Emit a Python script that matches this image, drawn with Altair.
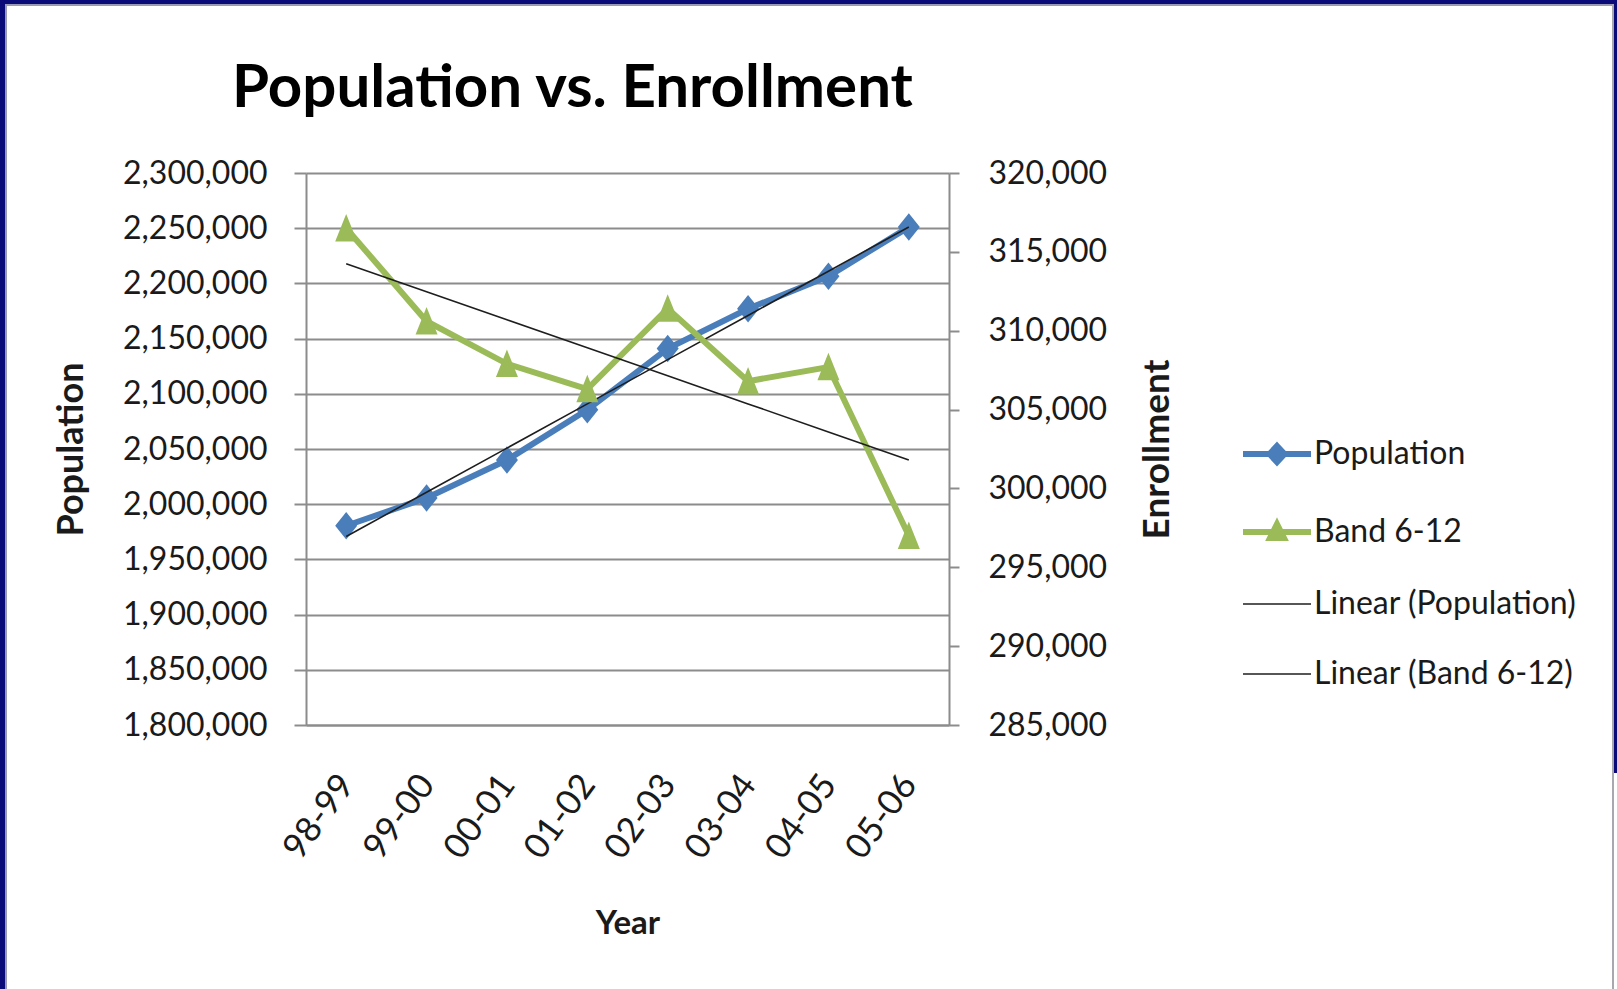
import altair as alt
import numpy as np
import pandas as pd

# ---- data -------------------------------------------------------------
years = ["98-99", "99-00", "00-01", "01-02", "02-03", "03-04", "04-05", "05-06"]
population = [1980500, 2005700, 2040000, 2085500, 2141000, 2177000, 2206500, 2251000]
band_6_12 = [316500, 310600, 307900, 306300, 311400, 306800, 307700, 297000]

pop_ticks = list(range(1800000, 2300001, 50000))
enr_ticks = list(range(285000, 320001, 5000))

series_names = ["Population", "Band 6-12", "Linear (Population)", "Linear (Band 6-12)"]
series_colors = ["#4a7ebb", "#9bbb59", "#1e1e1e", "#1e1e1e"]

# least-squares trend lines over the year index
idx = np.arange(len(years))
pop_trend = np.polyval(np.polyfit(idx, population, 1), idx)
band_trend = np.polyval(np.polyfit(idx, band_6_12, 1), idx)

pop_df = pd.DataFrame({"Year": years, "value": population, "series": series_names[0]})
band_df = pd.DataFrame({"Year": years, "value": band_6_12, "series": series_names[1]})
pop_trend_df = pd.DataFrame({"Year": years, "value": pop_trend, "series": series_names[2]})
band_trend_df = pd.DataFrame({"Year": years, "value": band_trend, "series": series_names[3]})

# ---- styling ----------------------------------------------------------
FONT = "Lato"
TITLE_FONT = "Lato"
TEXT = "#1a1a1a"
GRID = "#8c8c8c"

DIAMOND = "M0,-1.25L1,0L0,1.25L-1,0Z"
TRIANGLE = "M0,-1.3L1,1.2L-1,1.2Z"

# legend swatches: a line with the series marker in the middle
legend_shape = (
    "datum.value === 'Population' ? 'M-3.4,0L3.4,0M0,-0.8L0.75,0L0,0.8L-0.75,0Z' : "
    "datum.value === 'Band 6-12' ? 'M-3.4,0L3.4,0M0,-0.8L0.7,0.6L-0.7,0.6Z' : 'M-3.4,0L3.4,0'"
)
legend_fill = (
    "datum.value === 'Population' ? '#4a7ebb' : "
    "datum.value === 'Band 6-12' ? '#9bbb59' : 'transparent'"
)
legend_width = "indexof(['Population', 'Band 6-12'], datum.value) >= 0 ? 6 : 1.6"

legend = alt.Legend(
    title=None,
    orient="none",
    legendX=925,
    legendY=265,
    padding=0,
    symbolSize=400,
    symbolOffset=30,
    labelOffset=21,
    rowPadding=38,
    labelFont=FONT,
    labelFontSize=32,
    labelColor=TEXT,
    labelLimit=400,
    symbolType={"expr": legend_shape},
    symbolFillColor={"expr": legend_fill},
    symbolStrokeWidth={"expr": legend_width},
    symbolOpacity=1,
)

color = alt.Color(
    "series:N",
    scale=alt.Scale(domain=series_names, range=series_colors),
    legend=legend,
)

x_enc = alt.X(
    "Year:N",
    sort=years,
    scale=alt.Scale(domain=years),
    axis=alt.Axis(
        title="Year",
        labelAngle=306,
        labelAlign="right",
        labelBaseline="middle",
        labelPadding=53,
        labelFont=FONT,
        labelFontSize=35,
        labelColor=TEXT,
        ticks=False,
        domainColor=GRID,
        domainWidth=2,
        titleFont=FONT,
        titleFontSize=33,
        titleFontWeight="bold",
        titleColor=TEXT,
        titleBaseline="alphabetic",
        titleY=208,
    ),
)

pop_axis = alt.Axis(
    orient="left",
    values=pop_ticks,
    format=",d",
    grid=True,
    gridColor=GRID,
    gridWidth=2,
    tickSize=12,
    tickColor=GRID,
    tickWidth=2,
    domainColor=GRID,
    domainWidth=2,
    labelFont=FONT,
    labelFontSize=32,
    labelColor=TEXT,
    labelPadding=27,
    title="Population",
    titleFont=FONT,
    titleFontSize=36,
    titleFontWeight="bold",
    titleColor=TEXT,
    titleBaseline="alphabetic",
    titleX=-224,
)

enr_axis = alt.Axis(
    orient="right",
    values=enr_ticks,
    format=",d",
    grid=False,
    tickSize=10,
    tickColor=GRID,
    tickWidth=2,
    domainColor=GRID,
    domainWidth=2,
    labelFont=FONT,
    labelFontSize=32,
    labelColor=TEXT,
    labelPadding=29,
    title="Enrollment",
    titleFont=FONT,
    titleFontSize=37,
    titleFontWeight="bold",
    titleColor=TEXT,
    titleAngle=270,
    titleBaseline="alphabetic",
    titleX=219,
)

y_pop = alt.Y(
    "value:Q",
    scale=alt.Scale(domain=[1800000, 2300000], zero=False, nice=False),
    axis=pop_axis,
)
y_enr = alt.Y(
    "value:Q",
    scale=alt.Scale(domain=[285000, 320000], zero=False, nice=False),
    axis=enr_axis,
)

# ---- Population (left axis) -------------------------------------------
pop_line = alt.Chart(pop_df).mark_line(strokeWidth=6).encode(x=x_enc, y=y_pop, color=color)
pop_pts = alt.Chart(pop_df).mark_point(
    shape=DIAMOND, size=484, filled=True, opacity=1
).encode(x=x_enc, y=y_pop, color=color)
pop_fit = alt.Chart(pop_trend_df).mark_line(strokeWidth=1.6).encode(x=x_enc, y=y_pop, color=color)
pop_layer = alt.layer(pop_line, pop_pts, pop_fit)

# ---- Band 6-12 enrollment (right axis) ---------------------------------
band_line = alt.Chart(band_df).mark_line(strokeWidth=6).encode(x=x_enc, y=y_enr, color=color)
band_pts = alt.Chart(band_df).mark_point(
    shape=TRIANGLE, size=484, filled=True, opacity=1
).encode(x=x_enc, y=y_enr, color=color)
band_fit = alt.Chart(band_trend_df).mark_line(strokeWidth=1.6).encode(x=x_enc, y=y_enr, color=color)
band_layer = alt.layer(band_line, band_pts, band_fit)

# ---- slide frame around the chart ---------------------------------------
one = pd.DataFrame({"k": [0]})
frame_left = alt.Chart(one).mark_rule(color="#0a0a78", strokeWidth=5).encode(
    x=alt.value(-303.5), y=alt.value(-173), y2=alt.value(816)
)
frame_left_edge = alt.Chart(one).mark_rule(color="#9a9ab4", strokeWidth=2).encode(
    x=alt.value(-300), y=alt.value(-169), y2=alt.value(816)
)
frame_top = alt.Chart(one).mark_rule(color="#0a0a78", strokeWidth=4).encode(
    x=alt.value(-306), x2=alt.value(1311), y=alt.value(-171)
)
frame_top_edge = alt.Chart(one).mark_rule(color="#9a9ab4", strokeWidth=2).encode(
    x=alt.value(-301), x2=alt.value(1306), y=alt.value(-168)
)
frame_right = alt.Chart(one).mark_rule(color="#a8a8b0", strokeWidth=2).encode(
    x=alt.value(1307), y=alt.value(-169), y2=alt.value(816)
)
frame_right_outer = alt.Chart(one).mark_rule(color="#0a0a78", strokeWidth=3).encode(
    x=alt.value(1309.5), y=alt.value(-173), y2=alt.value(600)
)

chart = (
    alt.layer(
        pop_layer, band_layer,
        frame_left, frame_left_edge, frame_top, frame_top_edge, frame_right, frame_right_outer,
    )
    .resolve_scale(y="independent")
    .properties(
        width=643,
        height=552,
        autosize=alt.AutoSizeParams(type="none"),
        padding={"left": 306, "top": 173, "right": 668, "bottom": 264},
        background="white",
        title=alt.TitleParams(
            "Population vs. Enrollment",
            font=TITLE_FONT,
            fontSize=60,
            fontWeight="bold",
            color="#000000",
            anchor="middle",
            frame="group",
            baseline="alphabetic",
            dx=-55,
            dy=169,
            offset=0,
        ),
    )
    .configure_view(strokeWidth=0)
)

chart.save("out.html", embed_options={"renderer": "svg", "actions": False})
